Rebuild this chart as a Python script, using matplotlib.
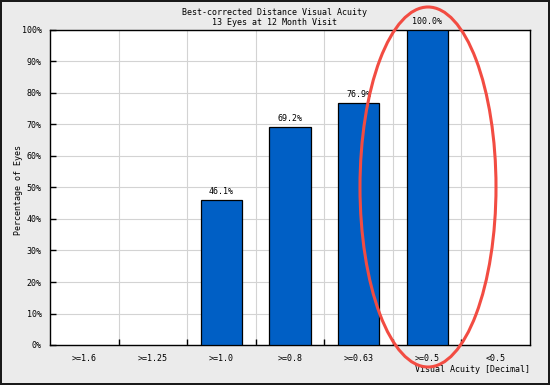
import matplotlib
matplotlib.use("Agg")
import matplotlib.pyplot as plt
from matplotlib.patches import Ellipse
import numpy as np

categories = ['>=1.6', '>=1.25', '>=1.0', '>=0.8', '>=0.63', '>=0.5', '<0.5']
percent_eyes = [0.0, 0.0, 46.1, 69.2, 76.9, 100.0, 0.0]
y_ticks = [0, 10, 20, 30, 40, 50, 60, 70, 80, 90, 100]

W, H = 550, 385
plt.rcParams['font.family'] = ['DejaVu Sans Mono']
fs = 6

fig = plt.figure(figsize=(W / 100, H / 100), dpi=100)
fig.patch.set_facecolor('#ebebeb')
fig.patch.set_edgecolor('#1a1a1a')
fig.patch.set_linewidth(1.5)

ax = fig.add_axes([50 / W, 1 - 345 / H, 480 / W, 315 / H])
ax.set_facecolor('white')

x = np.arange(len(categories))
# empty categories get no bar at all
shown = [(xi, v) for xi, v in zip(x, percent_eyes) if v > 0]
ax.bar([s[0] for s in shown], [s[1] for s in shown], width=0.6, color='#005fc5',
       edgecolor='black', linewidth=0.9, zorder=3)
for xi, v in shown:
    ax.annotate(f"{v:.1f}%", (xi, v), xytext=(0, 3), textcoords='offset points',
                ha='center', va='bottom', fontsize=fs, clip_on=False)

ax.set_xlim(-0.5, len(categories) - 0.5)
ax.set_ylim(0, 100)

# boundaries get grid + ticks, centres get labels
ax.set_xticks(np.arange(len(categories) - 1) + 0.5)
ax.set_xticklabels([])
ax.set_xticks(x, minor=True)
ax.set_xticklabels(categories, minor=True, fontsize=fs)
ax.tick_params(axis='x', which='major', direction='in', length=4, width=1, color='black')
ax.tick_params(axis='x', which='minor', length=0, pad=6.5)

ax.set_yticks(y_ticks)
ax.set_yticklabels([f"{t}%" for t in y_ticks], fontsize=fs)
ax.tick_params(axis='y', direction='in', length=4, width=1, pad=6)

ax.grid(True, which='major', color='#d3d3d3', linewidth=0.8, zorder=0)
ax.set_axisbelow(True)
for s in ax.spines.values():
    s.set_linewidth(1)
    s.set_color('black')

fig.text(0.5, 1 - 17.5 / H, "Best-corrected Distance Visual Acuity\n13 Eyes at 12 Month Visit",
         ha='center', va='center', fontsize=fs, multialignment='center', linespacing=1.05)
fig.text(530 / W, 1 - 370 / H, "Visual Acuity [Decimal]", ha='right', va='center', fontsize=fs)
fig.text(19 / W, 1 - 190 / H, "Percentage of Eyes", ha='center', va='center',
         rotation=90, fontsize=fs)

ell = Ellipse((428 / W, 1 - 187 / H), 136 / W, 360 / H, transform=fig.transFigure,
              fill=False, edgecolor='#f24c42', linewidth=2.2, zorder=10, clip_on=False)
fig.add_artist(ell)

fig.savefig('out.png', dpi=100, facecolor=fig.get_facecolor(), edgecolor=fig.get_edgecolor())
